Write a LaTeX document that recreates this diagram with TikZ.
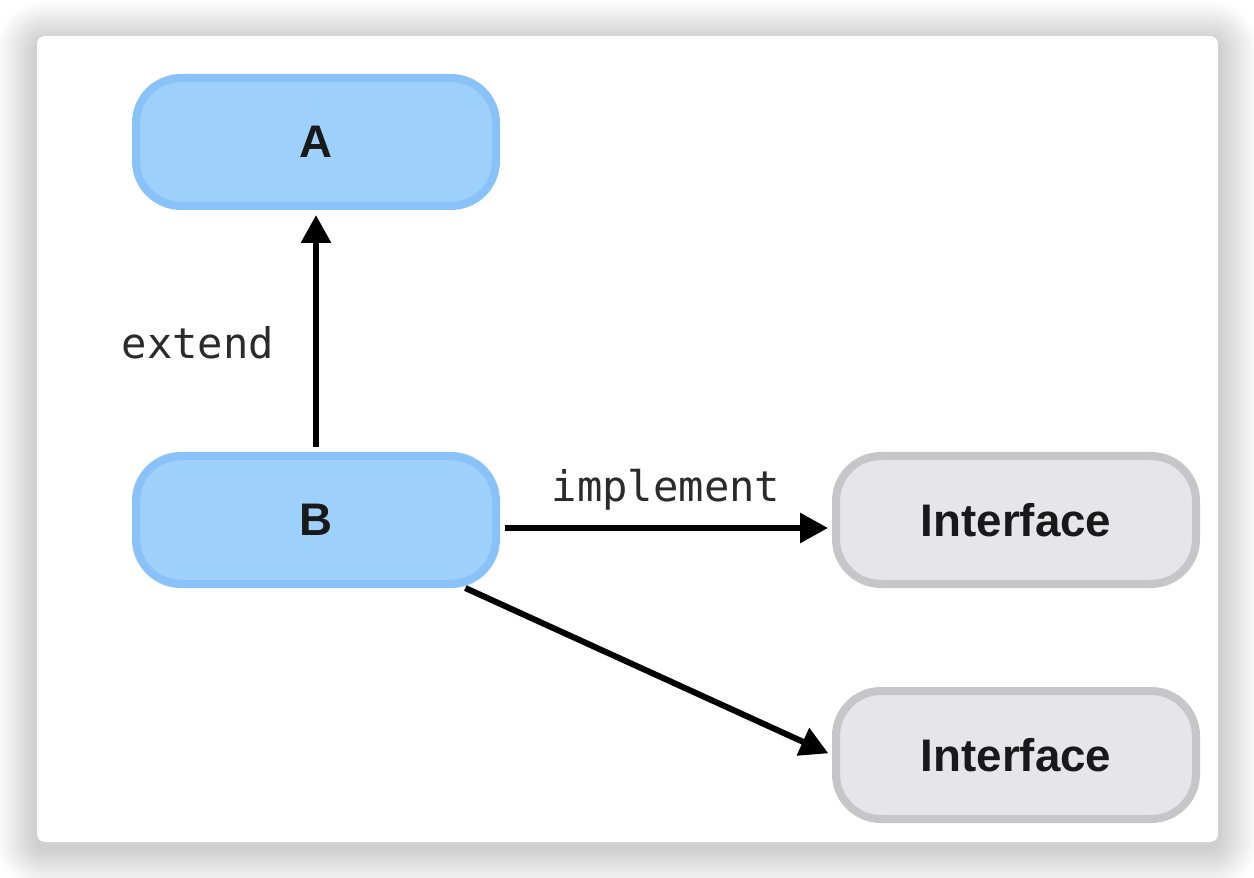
\documentclass[tikz,border=0pt]{standalone}
\usepackage{fontspec}
\setmainfont{Liberation Sans}
\setmonofont{DejaVu Sans Mono}
\usetikzlibrary{arrows.meta, positioning}
\definecolor{azulCaja}{HTML}{9DD1FB}
\definecolor{azulBorde}{HTML}{89C2F8}
\definecolor{grisCaja}{HTML}{E6E6E8}
\definecolor{grisBorde}{HTML}{C6C6C8}
\definecolor{textoEtiqueta}{HTML}{2B2B2B}

\begin{document}
\begin{tikzpicture}[
        clase/.style={draw=azulBorde, fill=azulCaja, line width=0.16cm, rounded corners=0.9cm,
            minimum width=7.2cm, minimum height=2.56cm, font=\bfseries\fontsize{26}{30}\selectfont, text=black!90},
        iface/.style={clase, draw=grisBorde, fill=grisCaja},
        rel/.style={-{Triangle[length=0.56cm, width=0.58cm]}, line width=0.12cm, black},
        etiq/.style={font=\ttfamily\fontsize{24}{28}\selectfont, text=textoEtiqueta, inner sep=0pt}
    ]
        % fondo con sombra
        \useasboundingbox (0,0) rectangle (25.08,-17.56);
        \fill[white] (0,0) rectangle (25.08,-17.56);
        \foreach \k in {1,...,16}
            \fill[black, opacity=0.011, rounded corners={0.16cm+\k*0.05cm}]
                ({0.74-\k*0.05},{-0.84+\k*0.05}) rectangle ({24.36+\k*0.05},{-16.96-\k*0.05});
        \fill[white, rounded corners=0.16cm] (0.74,-0.72) rectangle (24.36,-16.84);

        \node[clase] (A) at (6.32,-2.84) {A};
        \node[clase, below=4.84cm of A] (B) {B};
        \node[iface, right=6.64cm of B] (I1) {Interface};
        \node[iface, below=1.98cm of I1] (I2) {Interface};

        \draw[rel, shorten <=0.1cm, shorten >=0.1cm] (B) -- node[etiq, pos=0.45, left=0.78cm]{extend} (A);
        \draw[rel, shorten <=0.1cm, shorten >=0.08cm] ([yshift=-0.16cm]B.east) -- node[etiq, above=0.3cm]{implement} ([yshift=-0.16cm]I1.west);
        \draw[rel, shorten >=0.08cm] (B) -- (I2.west);
    \end{tikzpicture}
\end{document}
